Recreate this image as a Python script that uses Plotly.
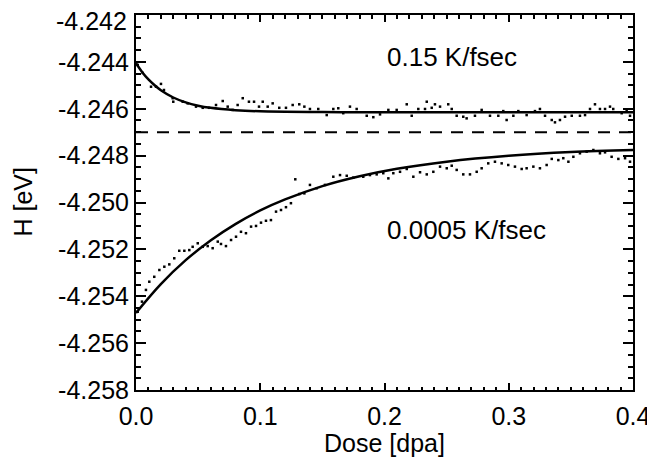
import plotly.graph_objects as go

# ---- data ----
fast_dose = [0.0014, 0.0054, 0.0121, 0.0161, 0.0201, 0.0225, 0.0295, 0.0300, 0.0376, 0.0416,
             0.0483, 0.0537, 0.0588, 0.0644, 0.0698, 0.0738, 0.0778, 0.0818, 0.0859, 0.0909,
             0.0950, 0.0990, 0.1020, 0.1060, 0.1100, 0.1153, 0.1207, 0.1261, 0.1314, 0.1355,
             0.1400, 0.1467, 0.1535, 0.1588, 0.1628, 0.1668, 0.1722, 0.1776, 0.1857, 0.1910,
             0.1964, 0.2031, 0.2098, 0.2179, 0.2219, 0.2272, 0.2326, 0.2340, 0.2380, 0.2406,
             0.2447, 0.2513, 0.2541, 0.2581, 0.2634, 0.2661, 0.2728, 0.2782, 0.2849, 0.2916,
             0.2956, 0.2983, 0.3037, 0.3077, 0.3144, 0.3211, 0.3251, 0.3292, 0.3346, 0.3372,
             0.3412, 0.3453, 0.3507, 0.3573, 0.3614, 0.3654, 0.3694, 0.3734, 0.3775, 0.3815,
             0.3841, 0.3909, 0.3949, 0.3976]
fast_H = [-4.24413, -4.24447, -4.24506, -4.24506, -4.24494, -4.24520, -4.24555, -4.24570, -4.24570, -4.24577,
          -4.24591, -4.24596, -4.24596, -4.24584, -4.24567, -4.24591, -4.24605, -4.24584, -4.24555, -4.24570,
          -4.24570, -4.24591, -4.24570, -4.24591, -4.24577, -4.24596, -4.24596, -4.24584, -4.24581, -4.24591,
          -4.24601, -4.24601, -4.24627, -4.24601, -4.24598, -4.24619, -4.24591, -4.24601, -4.24630, -4.24636,
          -4.24624, -4.24605, -4.24605, -4.24581, -4.24630, -4.24601, -4.24601, -4.24570, -4.24596, -4.24581,
          -4.24591, -4.24581, -4.24601, -4.24630, -4.24634, -4.24641, -4.24630, -4.24605, -4.24630, -4.24630,
          -4.24610, -4.24648, -4.24630, -4.24610, -4.24627, -4.24610, -4.24601, -4.24630, -4.24648, -4.24658,
          -4.24648, -4.24634, -4.24630, -4.24630, -4.24627, -4.24601, -4.24581, -4.24601, -4.24601, -4.24591,
          -4.24601, -4.24619, -4.24605, -4.24630]

slow_dose = [0.0014, 0.0048, 0.0080, 0.0107, 0.0147, 0.0188, 0.0228, 0.0268, 0.0308, 0.0348,
             0.0389, 0.0429, 0.0456, 0.0497, 0.0537, 0.0577, 0.0617, 0.0658, 0.0684, 0.0724,
             0.0765, 0.0805, 0.0845, 0.0885, 0.0926, 0.0966, 0.1006, 0.1046, 0.1086, 0.1127,
             0.1167, 0.1207, 0.1247, 0.1282, 0.1314, 0.1355, 0.1400, 0.1454, 0.1521, 0.1588,
             0.1642, 0.1696, 0.1749, 0.1829, 0.1883, 0.1937, 0.1990, 0.2031, 0.2071, 0.2125,
             0.2179, 0.2232, 0.2286, 0.2340, 0.2393, 0.2447, 0.2501, 0.2541, 0.2581, 0.2634,
             0.2688, 0.2742, 0.2782, 0.2835, 0.2889, 0.2943, 0.2996, 0.3050, 0.3104, 0.3144,
             0.3198, 0.3251, 0.3305, 0.3346, 0.3399, 0.3439, 0.3480, 0.3520, 0.3573, 0.3627,
             0.3681, 0.3734, 0.3775, 0.3828, 0.3882, 0.3936, 0.3976]
slow_H = [-4.25466, -4.25423, -4.25373, -4.25338, -4.25317, -4.25288, -4.25274, -4.25264, -4.25238, -4.25206,
          -4.25206, -4.25203, -4.25189, -4.25174, -4.25189, -4.25186, -4.25195, -4.25167, -4.25177, -4.25186,
          -4.25160, -4.25146, -4.25125, -4.25131, -4.25103, -4.25100, -4.25086, -4.25078, -4.25075, -4.25039,
          -4.25032, -4.25020, -4.25003, -4.24901, -4.24964, -4.24961, -4.24925, -4.24939, -4.24925, -4.24890,
          -4.24883, -4.24886, -4.24894, -4.24890, -4.24883, -4.24880, -4.24875, -4.24897, -4.24875, -4.24869,
          -4.24857, -4.24890, -4.24871, -4.24880, -4.24869, -4.24847, -4.24854, -4.24843, -4.24861, -4.24880,
          -4.24880, -4.24869, -4.24854, -4.24833, -4.24826, -4.24833, -4.24840, -4.24847, -4.24857, -4.24854,
          -4.24847, -4.24854, -4.24840, -4.24814, -4.24819, -4.24811, -4.24826, -4.24805, -4.24790, -4.24783,
          -4.24776, -4.24790, -4.24786, -4.24805, -4.24814, -4.24811, -4.24826]

fit_fast_dose = [0.0, 0.005, 0.01, 0.015, 0.02, 0.03, 0.04, 0.05, 0.06, 0.08, 0.10, 0.15, 0.2, 0.3, 0.4]
fit_fast_H = [-4.24406, -4.24444, -4.24475, -4.24500, -4.24521, -4.24552, -4.24573, -4.24587,
              -4.24596, -4.24606, -4.24611, -4.24614, -4.24615, -4.24615, -4.24615]

fit_slow_dose = [0.0, 0.02, 0.04, 0.06, 0.08, 0.10, 0.12, 0.15, 0.18, 0.21, 0.25, 0.30, 0.35, 0.40]
fit_slow_H = [-4.25471, -4.25348, -4.25246, -4.25162, -4.25092, -4.25034, -4.24987, -4.24930,
              -4.24888, -4.24856, -4.24826, -4.24801, -4.24785, -4.24776]

ref_level = -4.247

x_tick_vals = [0.0, 0.1, 0.2, 0.3, 0.4]
x_tick_text = ["0.0", "0.1", "0.2", "0.3", "0.4"]
y_tick_vals = [-4.258, -4.256, -4.254, -4.252, -4.250, -4.248, -4.246, -4.244, -4.242]
y_tick_text = ["-4.258", "-4.256", "-4.254", "-4.252", "-4.250", "-4.248", "-4.246", "-4.244", "-4.242"]

x_title = "Dose [dpa]"
y_title = "H [eV]"

labels = ["0.15 K/fsec", "0.0005 K/fsec"]
label_x = [0.2, 0.2]
label_y = [-4.24379, -4.25117]

FONT = "Liberation Sans, Arial, Helvetica, sans-serif"

fig = go.Figure()

fig.add_trace(go.Scatter(x=fast_dose, y=fast_H, mode="markers",
                         marker=dict(symbol="square", size=2.5, color="black"),
                         showlegend=False, hoverinfo="skip"))
fig.add_trace(go.Scatter(x=slow_dose, y=slow_H, mode="markers",
                         marker=dict(symbol="square", size=2.5, color="black"),
                         showlegend=False, hoverinfo="skip"))
fig.add_trace(go.Scatter(x=fit_fast_dose, y=fit_fast_H, mode="lines",
                         line=dict(color="black", width=2.5, shape="spline"),
                         showlegend=False))
fig.add_trace(go.Scatter(x=fit_slow_dose, y=fit_slow_H, mode="lines",
                         line=dict(color="black", width=2.5, shape="spline"),
                         showlegend=False))
fig.add_trace(go.Scatter(x=[0.0, 0.4], y=[ref_level, ref_level], mode="lines",
                         line=dict(color="black", width=2, dash="12px,9px"),
                         showlegend=False))

for t, xv, yv in zip(labels, label_x, label_y):
    fig.add_annotation(x=xv, y=yv, text=t, showarrow=False, xanchor="left", yanchor="middle",
                       font=dict(family=FONT, size=26, color="black"))

# axis titles as annotations placed relative to the plot area
fig.add_annotation(x=0.5, y=0, xref="paper", yref="paper", text=x_title, showarrow=False,
                   xanchor="center", yanchor="middle", yshift=-53,
                   font=dict(family=FONT, size=25, color="black"))
fig.add_annotation(x=0, y=0.5, xref="paper", yref="paper", text=y_title, showarrow=False,
                   textangle=-90, xanchor="center", yanchor="middle", xshift=-114,
                   font=dict(family=FONT, size=25, color="black"))

# the top y tick label sits a little below its tick (as in the reference) so it is not clipped
axis_tick_text = y_tick_text[:-1] + [""]
fig.add_annotation(x=0, y=y_tick_vals[-1], xref="paper", yref="y", text=y_tick_text[-1],
                   showarrow=False, xanchor="right", yanchor="middle", xshift=-7, yshift=-6,
                   font=dict(family=FONT, size=25, color="black"))

# the page body adds an 8px offset, so the figure is sized 8px smaller
fig.update_layout(
    width=647, height=450,
    margin=dict(l=128, r=22, t=7, b=68),
    paper_bgcolor="white", plot_bgcolor="white",
    font=dict(family=FONT, size=25, color="black"),
    xaxis=dict(range=[0, 0.4], tickvals=x_tick_vals, ticktext=x_tick_text,
               ticks="inside", ticklen=7, tickwidth=2, tickcolor="black",
               showline=True, linewidth=2, linecolor="black", mirror="ticks",
               showgrid=False, zeroline=False, automargin=False,
               ticklabelstandoff=3, ticklabeloverflow="allow",
               minor=dict(ticks="inside", dtick=0.01, ticklen=3.5, tickwidth=2, tickcolor="black", showgrid=False),
               tickfont=dict(size=25)),
    yaxis=dict(range=[-4.258, -4.242], tickvals=y_tick_vals, ticktext=axis_tick_text,
               ticks="inside", ticklen=10, tickwidth=2, tickcolor="black",
               showline=True, linewidth=2, linecolor="black", mirror="ticks",
               showgrid=False, zeroline=False, automargin=False,
               ticklabeloverflow="allow",
               minor=dict(ticks="inside", dtick=0.0005, ticklen=5, tickwidth=2, tickcolor="black", showgrid=False),
               tickfont=dict(size=25)),
)

fig.write_html("out.html")
